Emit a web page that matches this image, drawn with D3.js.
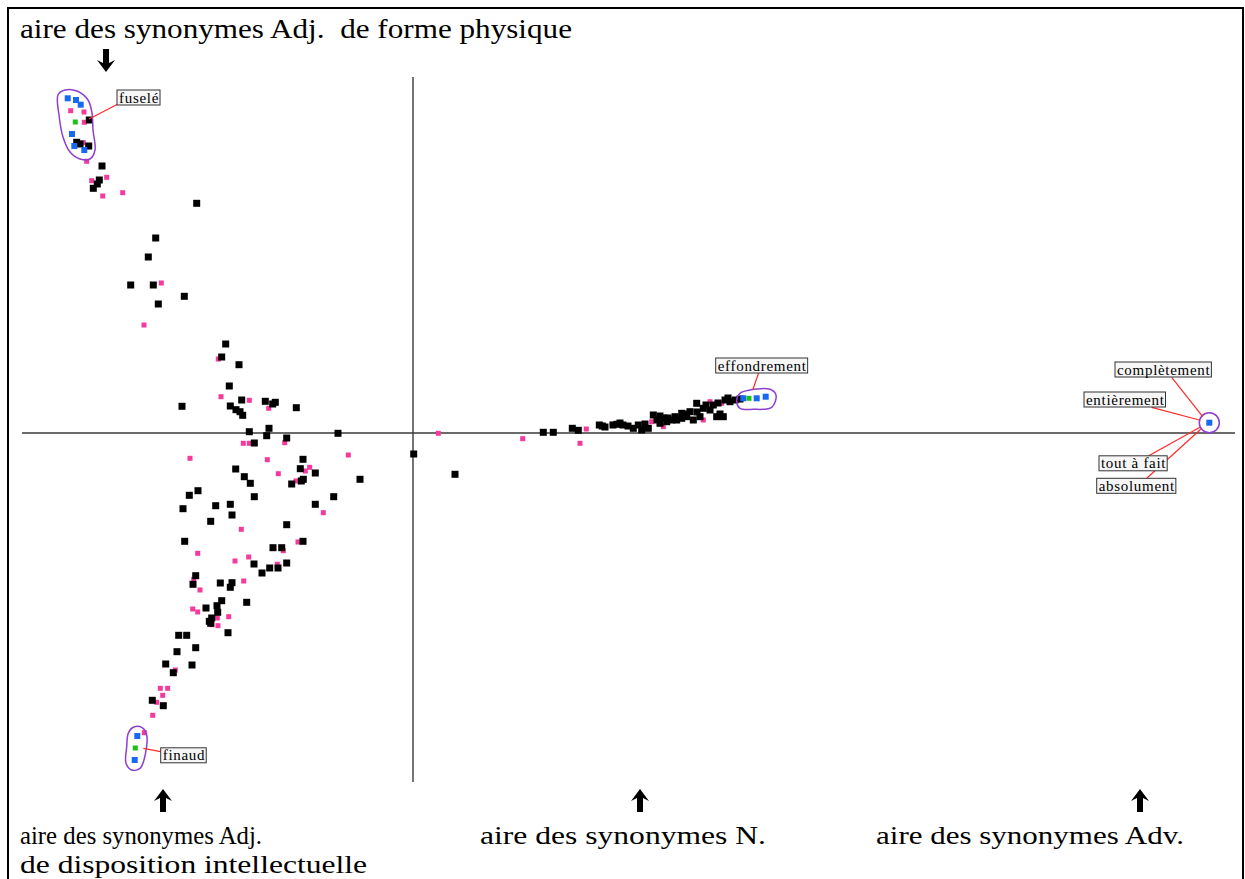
<!DOCTYPE html>
<html>
<head>
<meta charset="utf-8">
<script src="https://cdn.jsdelivr.net/npm/d3@7"></script>
<style>
  html, body { margin: 0; padding: 0; background: #fff; }
  svg { display: block; }
  .caption { font-family: "Liberation Serif", "DejaVu Serif", serif; font-size: 27px; fill: #000; }
  .caption.bottom { font-size: 26px; }
  .word { font-family: "Liberation Serif", serif; font-size: 15px; letter-spacing: 0.7px; fill: #000; }
</style>
</head>
<body>
<div id="chart"></div>
<script>
// factor map coordinates (axis 1, axis 2)
const blackPoints = [
  [-3.237, 3.13], [-3.363, 2.907], [-3.33, 2.89], [-3.243, 2.87], [-3.11, 2.67],
  [-3.137, 2.53], [-3.157, 2.49], [-3.197, 2.447], [-2.163, 2.297], [-2.573, 1.95],
  [-2.647, 1.76], [-2.823, 1.48], [-2.597, 1.48], [-2.287, 1.367], [-2.547, 1.29],
  [-1.873, 0.89], [-1.913, 0.76], [-1.74, 0.683], [-1.837, 0.47], [-1.713, 0.33],
  [-1.477, 0.317], [-1.377, 0.307], [-1.403, 0.29], [-2.31, 0.267], [-1.827, 0.27],
  [-1.77, 0.233], [-1.73, 0.213], [-1.703, 0.177], [-1.167, 0.253], [-1.637, 0.013],
  [-1.44, 0.047], [-1.463, -0.027], [-1.263, -0.05], [-0.75, -0.003], [-1.587, -0.1],
  [-1.1, -0.263], [-1.773, -0.36], [-1.127, -0.357], [-0.977, -0.4], [-1.687, -0.437],
  [-1.097, -0.463], [-1.117, -0.48], [-1.213, -0.51], [-0.53, -0.463], [-1.627, -0.503],
  [-2.15, -0.577], [-2.237, -0.623], [-1.587, -0.637], [-0.793, -0.637], [-1.973, -0.727],
  [-1.827, -0.713], [-0.977, -0.713], [-2.3, -0.757], [-1.81, -0.82], [-2.023, -0.883],
  [-1.263, -0.917], [-2.283, -1.083], [-1.1, -1.083], [-1.4, -1.147], [-1.313, -1.147],
  [-1.59, -1.31], [-1.433, -1.35], [-1.35, -1.35], [-1.263, -1.3], [-1.51, -1.4],
  [-2.173, -1.427], [-2.2, -1.513], [-1.927, -1.5], [-1.81, -1.497], [-1.827, -1.543],
  [-1.913, -1.677], [-1.663, -1.693], [-2.07, -1.75], [-1.96, -1.727], [-1.953, -1.793],
  [-2.013, -1.85], [-2.037, -1.883], [-2.023, -1.903], [-1.85, -1.997], [-2.343, -2.023],
  [-2.263, -2.023], [-2.173, -2.147], [-2.36, -2.187], [-2.473, -2.31], [-2.21, -2.32],
  [-2.397, -2.397], [-2.607, -2.673], [-2.497, -2.727],
  [0.007, -0.21], [0.42, -0.413], [1.303, 0.007], [1.403, 0.007], [1.593, 0.047],
  [1.653, 0.027], [1.863, 0.08], [1.893, 0.07], [2.04, 0.087], [2.0, 0.08],
  [2.1, 0.08], [2.15, 0.07], [2.203, 0.047], [2.253, 0.08], [2.287, 0.03],
  [2.353, 0.047], [2.403, 0.18], [2.47, 0.097], [2.537, 0.113], [2.587, 0.13],
  [2.637, 0.13], [2.687, 0.147], [2.737, 0.163], [2.803, 0.13], [2.87, 0.163],
  [2.837, 0.297], [2.903, 0.247], [3.003, 0.28], [3.037, 0.163], [3.103, 0.163],
  [3.12, 0.33], [3.17, 0.313], [3.22, 0.33], [2.77, 0.213], [2.687, 0.197],
  [2.62, 0.163], [2.51, 0.15], [2.97, 0.23], [3.07, 0.19], [3.27, 0.34],
  [1.92, 0.06], [2.07, 0.1], [2.32, 0.09], [2.44, 0.13], [2.55, 0.15],
  [2.71, 0.19], [2.84, 0.21], [2.93, 0.28], [3.05, 0.3], [3.15, 0.35], [2.47, 0.17]
];

const pinkPoints = [
  [-3.423, 3.223], [-3.29, 3.21], [-3.287, 3.107], [-3.297, 2.903], [-3.263, 2.717],
  [-3.213, 2.523], [-3.063, 2.557], [-3.103, 2.37], [-2.903, 2.403], [-2.517, 1.5],
  [-2.69, 1.08], [-1.947, 0.74], [-1.92, 0.363], [-1.637, 0.327], [-1.443, 0.247],
  [-1.697, -0.103], [-1.637, -0.103], [-1.283, -0.097], [-2.23, -0.253], [-1.457, -0.267],
  [-0.647, -0.22], [-1.033, -0.343], [-1.077, -0.38], [-1.347, -0.407], [-1.17, -0.48],
  [-0.897, -0.797], [-1.717, -0.963], [-1.15, -1.09], [-2.153, -1.203], [-1.297, -1.177],
  [-1.78, -1.28], [-1.643, -1.24], [-1.357, -1.313], [-2.193, -1.463], [-2.13, -1.57],
  [-1.693, -1.48], [-2.203, -1.76], [-2.153, -1.79], [-1.957, -1.85], [-1.843, -1.837],
  [-2.01, -1.917], [-1.95, -1.927], [-2.377, -2.37], [-2.527, -2.553], [-2.453, -2.553],
  [-2.503, -2.623], [-2.563, -2.693], [-2.603, -2.823], [-2.687, -2.997],
  [0.253, -0.003], [1.097, -0.057], [1.67, -0.103], [1.733, 0.04], [1.993, 0.087],
  [2.387, 0.113], [2.503, 0.063], [2.903, 0.13], [2.97, 0.313], [3.087, 0.297], [3.253, 0.33]
];

const bluePoints = [
  [-3.453, 3.347], [-3.37, 3.33], [-3.323, 3.283], [-3.41, 2.99], [-3.387, 2.87], [-3.287, 2.83],
  [-2.757, -3.03], [-2.783, -3.27],
  [3.303, 0.347], [3.437, 0.347], [3.527, 0.363],
  [7.963, 0.103]
];

const greenPoints = [[-3.377, 3.11], [-2.777, -3.15], [3.36, 0.347]];

// hand-drawn outlines around the selected groups
const outlineTop = [
  [-3.55, 3.38], [-3.48, 3.43], [-3.36, 3.42], [-3.25, 3.33], [-3.21, 3.2], [-3.2, 3.03],
  [-3.18, 2.83], [-3.23, 2.74], [-3.33, 2.74], [-3.43, 2.81], [-3.5, 2.96], [-3.54, 3.18]
];
const outlineBottom = [
  [-2.797, -2.943], [-2.713, -2.943], [-2.663, -3.02], [-2.69, -3.27], [-2.73, -3.353],
  [-2.813, -3.37], [-2.87, -3.303], [-2.863, -3.137], [-2.847, -3.003]
];
const outlineMid = [
  [3.27, 0.397], [3.37, 0.43], [3.57, 0.437], [3.63, 0.38], [3.587, 0.257],
  [3.403, 0.237], [3.27, 0.247], [3.237, 0.313]
];
const outlineRight = [7.963, 0.103];

// word labels: box left / centre, leader line from box to point
const wordLabels = [
  { text: "fuselé", at: [-2.96, 3.355], from: [-2.95, 3.29], to: [-3.24, 3.14] },
  { text: "finaud", at: [-2.523, -3.223], from: [-2.523, -3.187], to: [-2.697, -3.153] },
  { text: "effondrement", at: [3.027, 0.675], from: [3.457, 0.603], to: [3.397, 0.43] },
  { text: "complètement", at: [7.02, 0.635], from: [7.587, 0.557], to: [7.897, 0.163] },
  { text: "entièrement", at: [6.71, 0.335], from: [7.387, 0.257], to: [7.863, 0.13] },
  { text: "tout à fait", at: [6.86, -0.303], from: [7.353, -0.23], to: [7.87, 0.057] },
  { text: "absolument", at: [6.837, -0.528], from: [7.337, -0.453], to: [7.877, 0.037] }
];

const topCaption = "aire des synonymes Adj.  de forme physique";
const bottomCaptions = [
  { lines: ["aire des synonymes Adj.", "de disposition intellectuelle"], arrow: 163 },
  { lines: ["aire des synonymes N."], arrow: 640 },
  { lines: ["aire des synonymes Adv."], arrow: 1140 }
];

const width = 1245;
const height = 879;

const svg = d3.select("#chart").append("svg")
  .attr("width", width)
  .attr("height", height);

const x = d3.scaleLinear().domain([-3.91, 8.22]).range([22, 1235]);
const y = d3.scaleLinear().domain([3.56, -3.49]).range([77, 782]);

// frame
svg.append("rect")
  .attr("x", 8).attr("y", 8)
  .attr("width", 1235).attr("height", 890)
  .attr("fill", "none").attr("stroke", "#000").attr("stroke-width", 2);

// axes through the origin
const axisLayer = svg.append("g").attr("stroke", "#3a3a3a").attr("stroke-width", 1.4);
axisLayer.append("line")
  .attr("x1", x.range()[0]).attr("x2", x.range()[1])
  .attr("y1", y(0)).attr("y2", y(0));
axisLayer.append("line")
  .attr("x1", x(0)).attr("x2", x(0))
  .attr("y1", y.range()[0]).attr("y2", y.range()[1]);

function drawSquares(points, size, color) {
  svg.append("g")
    .selectAll("rect")
    .data(points)
    .join("rect")
    .attr("x", (d) => x(d[0]) - size / 2)
    .attr("y", (d) => y(d[1]) - size / 2)
    .attr("width", size)
    .attr("height", size)
    .attr("fill", color);
}

drawSquares(pinkPoints, 5, "#f43a9b");
drawSquares(blackPoints, 7, "#000");
drawSquares(bluePoints, 6, "#1769f2");
drawSquares(greenPoints, 5, "#19c219");

// outlines
const closedLine = d3.line()
  .x((d) => x(d[0]))
  .y((d) => y(d[1]))
  .curve(d3.curveCatmullRomClosed.alpha(0.5));

const outlineLayer = svg.append("g")
  .attr("fill", "none")
  .attr("stroke", "#8e3fcf")
  .attr("stroke-width", 1.5);

outlineLayer.selectAll("path")
  .data([outlineTop, outlineBottom, outlineMid])
  .join("path")
  .attr("d", closedLine);

outlineLayer.append("circle")
  .attr("cx", x(outlineRight[0]))
  .attr("cy", y(outlineRight[1]))
  .attr("r", 10);

// leader lines + boxed words
const labelLayer = svg.append("g");
labelLayer.selectAll("line")
  .data(wordLabels)
  .join("line")
  .attr("x1", (d) => x(d.from[0]))
  .attr("y1", (d) => y(d.from[1]))
  .attr("x2", (d) => x(d.to[0]))
  .attr("y2", (d) => y(d.to[1]))
  .attr("stroke", "#ff2a2a")
  .attr("stroke-width", 1.2);

const labelGroups = labelLayer.selectAll("g.word-label")
  .data(wordLabels)
  .join("g")
  .attr("class", "word-label")
  .attr("transform", (d) => `translate(${x(d.at[0])},${y(d.at[1])})`);

labelGroups.append("rect")
  .attr("fill", "#f6f6f6")
  .attr("stroke", "#333")
  .attr("stroke-width", 1);

const words = labelGroups.append("text")
  .attr("class", "word")
  .attr("x", 2)
  .attr("y", 5)
  .text((d) => d.text);

words.each(function () {
  const w = this.getComputedTextLength();
  d3.select(this.parentNode).select("rect")
    .attr("x", 0).attr("y", -7.5)
    .attr("width", w + 3).attr("height", 15);
});

// captions and arrows
function arrowPath(cx, tip, dir) {
  // dir = -1 for an arrow pointing up, 1 for pointing down
  const p = (dx, dy) => `${cx + dx},${tip - dir * dy}`;
  return `M${p(0, 0)}L${p(9, 12)}L${p(3, 9)}L${p(3, 23)}L${p(-3, 23)}L${p(-3, 9)}L${p(-9, 12)}Z`;
}

svg.append("text")
  .attr("class", "caption")
  .attr("x", 20)
  .attr("y", 38)
  .attr("textLength", 552)
  .attr("lengthAdjust", "spacingAndGlyphs")
  .style("white-space", "pre")
  .text(topCaption);

svg.append("path")
  .attr("d", arrowPath(106, 72, 1))
  .attr("fill", "#000");

const captionLengths = [[242, 347], [286], [308]];
const captionStarts = [20, 480, 876];

bottomCaptions.forEach((c, i) => {
  svg.append("path")
    .attr("d", arrowPath(c.arrow, 789, -1))
    .attr("fill", "#000");
  c.lines.forEach((line, j) => {
    svg.append("text")
      .attr("class", "caption bottom")
      .attr("x", captionStarts[i])
      .attr("y", 844 + j * 29)
      .attr("textLength", captionLengths[i][j])
      .attr("lengthAdjust", "spacingAndGlyphs")
      .text(line);
  });
});
</script>
</body>
</html>
